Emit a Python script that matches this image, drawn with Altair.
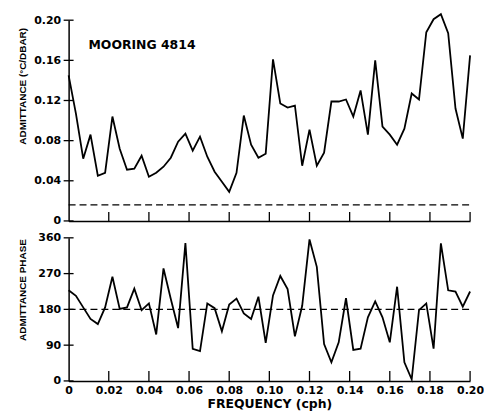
import altair as alt
import pandas as pd

# ---- data ----
N_POINTS = 56
F_MAX = 0.20
freq = [round(i * F_MAX / (N_POINTS - 1), 5) for i in range(N_POINTS)]

admittance = [
    0.145, 0.107, 0.062, 0.086, 0.045, 0.048, 0.104, 0.072, 0.051, 0.052,
    0.065, 0.044, 0.048, 0.054, 0.063, 0.079, 0.087, 0.070, 0.084, 0.064,
    0.049, 0.039, 0.029, 0.048, 0.105, 0.076, 0.063, 0.067, 0.161, 0.117,
    0.113, 0.115, 0.055, 0.091, 0.055, 0.068, 0.119, 0.119, 0.121, 0.104,
    0.130, 0.086, 0.160, 0.094, 0.086, 0.076, 0.092, 0.127, 0.121, 0.188,
    0.201, 0.206, 0.187, 0.112, 0.082, 0.165,
]

phase = [
    228, 214, 185, 156, 143, 185, 262, 181, 185, 232,
    178, 195, 117, 283, 206, 133, 347, 81, 75, 195,
    183, 125, 192, 207, 170, 156, 212, 96, 215, 264,
    231, 112, 189, 356, 287, 93, 47, 97, 208, 78,
    81, 160, 200, 160, 97, 237, 47, 4, 178, 195,
    81, 346, 228, 225, 187, 225,
]

x_ticks = [0.02, 0.04, 0.06, 0.08, 0.10, 0.12, 0.14, 0.16, 0.18, 0.20]
x_labels = [0.0] + x_ticks
adm_ticks = [0, 0.04, 0.08, 0.12, 0.16, 0.20]
phase_ticks = [0, 90, 180, 270, 360]
adm_ref = [0.016]
phase_ref = [180]
panel_label = ["MOORING 4814"]

# ---- styling ----
W = 404
H1 = 202
H2 = 144
LBL_FONT = "DejaVu Sans"
TTL_FONT = "Liberation Sans"
fmt = "datum.value == 0 ? '0' : format(datum.value, '.2f')"

df_top = pd.DataFrame({"f": freq, "a": admittance})
df_bot = pd.DataFrame({"f": freq, "p": phase})

xscale = alt.Scale(domain=[0, F_MAX], nice=False, zero=False)
ascale = alt.Scale(domain=[0, 0.2], nice=False)
pscale = alt.Scale(domain=[0, 360], nice=False)

common_axis = dict(
    grid=False, ticks=False, domainColor="black", domainWidth=1.5,
    labelFont=LBL_FONT, labelFontSize=11, labelFontWeight="bold",
    labelColor="black",
)

# axis definitions (shared by all layers of a panel)
ax_top_x = alt.Axis(labels=False, title=None, **common_axis)
ax_top_y = alt.Axis(values=adm_ticks, labelExpr=fmt, labelPadding=8,
                    title="ADMITTANCE (°C/DBAR)", titleFont=TTL_FONT,
                    titleFontSize=10, titleFontWeight="bold", titleColor="black",
                    titleAngle=270, titleBaseline="bottom", titleAlign="center",
                    titleX=-41, titleY=66, **common_axis)
ax_bot_x = alt.Axis(values=x_labels, labelExpr=fmt, labelPadding=4,
                    labelFlush=False,
                    title="FREQUENCY (cph)", titleFont=LBL_FONT,
                    titleFontSize=12.5, titleFontWeight="bold",
                    titleColor="black", titlePadding=2, **common_axis)
ax_bot_y = alt.Axis(values=phase_ticks, labelPadding=8,
                    title="ADMITTANCE PHASE", titleFont=TTL_FONT,
                    titleFontSize=10, titleFontWeight="bold", titleColor="black",
                    titleAngle=270, titleBaseline="bottom", titleAlign="center",
                    titleX=-41, titleY=52, **common_axis)

# ---------------- top panel ----------------
top_line = alt.Chart(df_top).mark_line(color="black", strokeWidth=1.8, clip=False).encode(
    x=alt.X("f:Q", scale=xscale, axis=ax_top_x),
    y=alt.Y("a:Q", scale=ascale, axis=ax_top_y),
)

top_ref = alt.Chart(pd.DataFrame({"a": adm_ref})).mark_rule(
    color="black", strokeWidth=1.3, strokeDash=[7, 4]).encode(
    y=alt.Y("a:Q", scale=ascale, axis=ax_top_y),
    x=alt.value(0), x2=alt.value(W))

top_yticks = alt.Chart(pd.DataFrame({"a": adm_ticks})).mark_rule(
    color="black", strokeWidth=1.3).encode(
    y=alt.Y("a:Q", scale=ascale, axis=ax_top_y),
    x=alt.value(-5), x2=alt.value(5))

top_xticks = alt.Chart(pd.DataFrame({"f": x_ticks})).mark_rule(
    color="black", strokeWidth=1.3).encode(
    x=alt.X("f:Q", scale=xscale, axis=ax_top_x),
    y=alt.value(H1), y2=alt.value(H1 - 9))

top_text = alt.Chart(pd.DataFrame({"t": panel_label})).mark_text(
    align="left", baseline="middle", font=LBL_FONT, fontSize=12.5,
    fontWeight="bold", color="black").encode(
    text="t:N", x=alt.value(20), y=alt.value(25))

top = alt.layer(top_line, top_ref, top_yticks, top_xticks, top_text).properties(
    width=W, height=H1)

# ---------------- bottom panel ----------------
bot_line = alt.Chart(df_bot).mark_line(color="black", strokeWidth=1.8, clip=False).encode(
    x=alt.X("f:Q", scale=xscale, axis=ax_bot_x),
    y=alt.Y("p:Q", scale=pscale, axis=ax_bot_y),
)

bot_ref = alt.Chart(pd.DataFrame({"p": phase_ref})).mark_rule(
    color="black", strokeWidth=1.3, strokeDash=[7, 4]).encode(
    y=alt.Y("p:Q", scale=pscale, axis=ax_bot_y),
    x=alt.value(0), x2=alt.value(W))

bot_yticks = alt.Chart(pd.DataFrame({"p": phase_ticks})).mark_rule(
    color="black", strokeWidth=1.3).encode(
    y=alt.Y("p:Q", scale=pscale, axis=ax_bot_y),
    x=alt.value(-5), x2=alt.value(5))

bot_xticks = alt.Chart(pd.DataFrame({"f": x_ticks})).mark_rule(
    color="black", strokeWidth=1.3).encode(
    x=alt.X("f:Q", scale=xscale, axis=ax_bot_x),
    y=alt.value(H2), y2=alt.value(H2 - 10))

bottom = alt.layer(bot_line, bot_ref, bot_yticks, bot_xticks).properties(
    width=W, height=H2)

chart = alt.vconcat(top, bottom, spacing=17, bounds="flush").properties(
    padding={"left": 10, "top": 1, "right": 0, "bottom": 2},
    background="white",
).configure_view(stroke=None)

chart.save("out.html", embed_options={"renderer": "svg", "actions": False})
